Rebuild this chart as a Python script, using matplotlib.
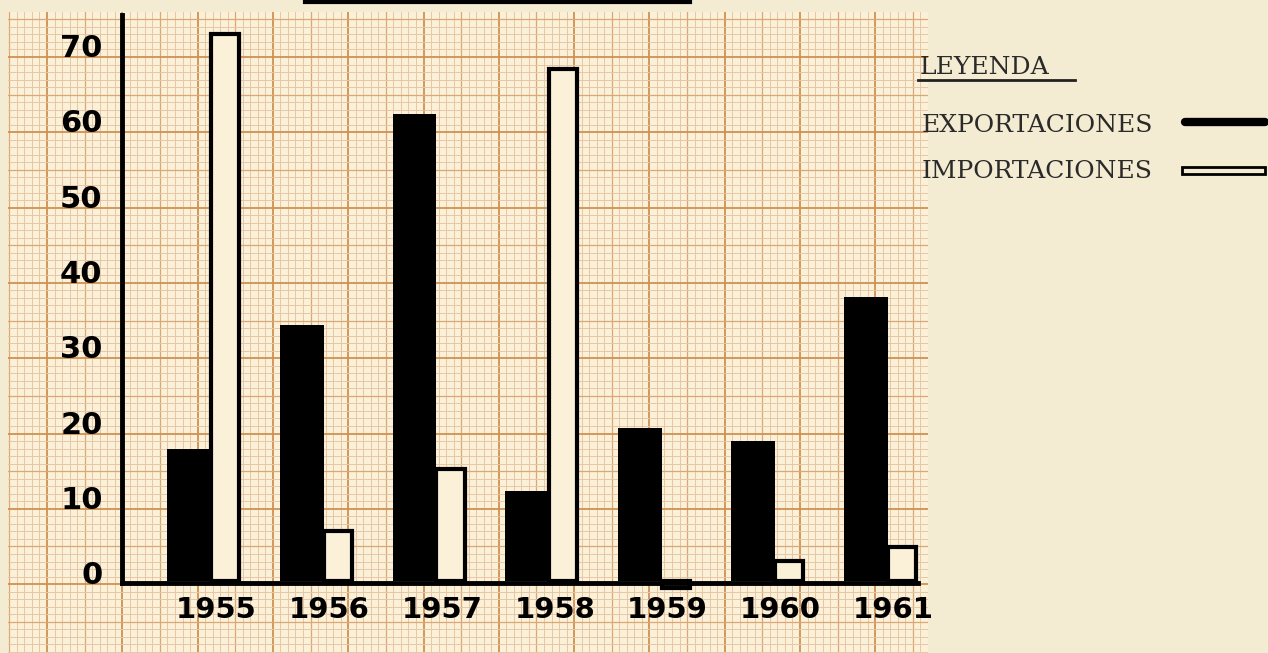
import numpy as np
import matplotlib.pyplot as plt
from matplotlib.lines import Line2D
from matplotlib.patches import Rectangle
import matplotlib.transforms as mtransforms

years = ['1955', '1956', '1957', '1958', '1959', '1960', '1961']
exportaciones = [17.5, 34, 62, 12, 20.3, 18.6, 37.7]
importaciones = [72.6, 6.6, 14.9, 68, -1.0, 2.6, 4.5]
y_ticks = [0, 10, 20, 30, 40, 50, 60, 70]

W, H = 1268, 653
fig = plt.figure(figsize=(W / 100, H / 100), dpi=100)
fig.patch.set_facecolor('#f3ebd2')

# graph paper behind the chart
bg = fig.add_axes([8 / W, 0, (928 - 8) / W, (653 - 12) / H])
bg.set_xlim(0, 920)
bg.set_ylim(641, 0)
bg.axis('off')
bg.add_patch(Rectangle((0, 0), 920, 641, facecolor='#fbf0d8', edgecolor='none', zorder=0))
step = 7.53


def paper_line(k):
    if k % 10 == 0:
        return '#cf9153', 1.3
    if k % 5 == 0:
        return '#daa877', 0.9
    return '#e7c6a4', 0.7


for k in range(-10, 130):
    xv = 39 + k * step
    if 0 <= xv <= 920:
        c, lw = paper_line(k)
        bg.axvline(xv, color=c, lw=lw, zorder=1)
for k in range(-10, 90):
    yv = 45 + k * step
    if 0 <= yv <= 641:
        c, lw = paper_line(k)
        bg.axhline(yv, color=c, lw=lw, zorder=1)

# chart
ax = fig.add_axes([122 / W, (653 - 583) / H, (918 - 122) / W, (583 - 15) / H])
ax.patch.set_alpha(0)
ax.set_xlim(-0.789, 6.27)
ax.set_ylim(-0.27, 75.17)
x = np.arange(len(years))

ax.bar(x, importaciones, width=0.25, align='edge', facecolor='#fbf0d8',
       edgecolor='black', linewidth=3, zorder=2, clip_on=False)
ax.bar(x, exportaciones, width=-0.39, align='edge', color='black', zorder=3)

for side in ['top', 'right']:
    ax.spines[side].set_visible(False)
for side in ['left', 'bottom']:
    ax.spines[side].set_linewidth(3.5)
    ax.spines[side].set_color('black')

ax.set_xticks(x + 0.05)
ax.set_xticklabels(years, fontsize=21, fontweight='bold')
ax.set_yticks(y_ticks)
ax.set_yticklabels([str(v) for v in y_ticks], fontsize=22, fontweight='bold')
ax.tick_params(axis='x', length=0, pad=9)
ax.tick_params(axis='y', length=0, pad=14)
offset = mtransforms.ScaledTranslation(0, 6 / 72, fig.dpi_scale_trans)
for lab in ax.get_yticklabels():
    lab.set_transform(lab.get_transform() + offset)

# title underline (title cut off at the top)
fig.add_artist(Line2D([305 / W, 690 / W], [1 - 2 / H, 1 - 2 / H], color='black', lw=3))

# legend
tfont = dict(family='DejaVu Serif', color='#2a2a2a', fontsize=18)
fig.text(920 / W, 1 - 68 / H, 'LEYENDA', va='center', ha='left', **tfont)
fig.add_artist(Line2D([918 / W, 1075 / W], [1 - 80 / H, 1 - 80 / H], color='#222222', lw=2))
fig.text(922 / W, 1 - 125 / H, 'EXPORTACIONES', va='center', ha='left', **tfont)
fig.add_artist(Line2D([1185 / W, 1265 / W], [1 - 122 / H, 1 - 122 / H], color='black', lw=6,
                      solid_capstyle='round'))
fig.text(922 / W, 1 - 172 / H, 'IMPORTACIONES', va='center', ha='left', **tfont)
fig.add_artist(Rectangle((1182 / W, 1 - 174 / H), 83 / W, 7 / H, facecolor='#f3ebd2',
                         edgecolor='black', lw=2, transform=fig.transFigure))

fig.savefig('out.png', dpi=100, facecolor=fig.get_facecolor())
